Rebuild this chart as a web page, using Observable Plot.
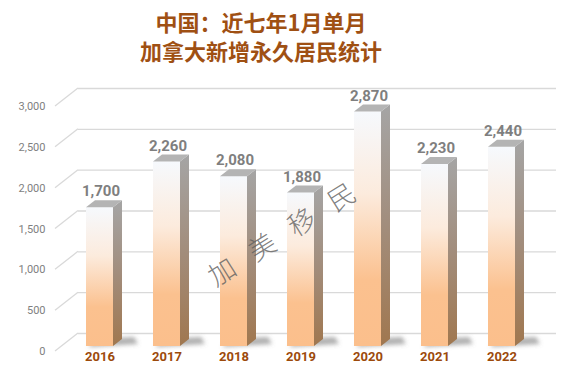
<!DOCTYPE html>
<html>
<head>
<meta charset="utf-8">
<script src="https://cdn.jsdelivr.net/npm/d3@7"></script>
<script src="https://cdn.jsdelivr.net/npm/@observablehq/plot@0.6"></script>
<style>
  html, body { margin: 0; padding: 0; background: #fff; }
  #wrap { position: relative; width: 578px; height: 368px; overflow: hidden; }
  #title { width: 522px; height: 76px; box-sizing: border-box; padding-top: 7px; text-align: center;
           font-family: "Noto Sans CJK SC", sans-serif; font-weight: bold; font-size: 22px; line-height: 29px; color: #9f5013; }
  #wm { position: absolute; left: 281px; top: 233px; transform: translate(-50%, -50%) rotate(-32deg);
        font-family: "Noto Sans CJK SC", sans-serif; font-weight: 300; font-size: 27px; letter-spacing: 20px; padding-left: 20px;
        color: rgba(95, 95, 95, 0.8); white-space: nowrap; pointer-events: none; }
  svg { display: block; }
</style>
</head>
<body>
<div id="wrap">
  <div id="title"></div>
  <div id="chart"></div>
  <div id="wm"></div>
</div>
<script>
const titleLines = ["中国：近七年1月单月", "加拿大新增永久居民统计"];
const years = ["2016", "2017", "2018", "2019", "2020", "2021", "2022"];
const values = [1700, 2260, 2080, 1880, 2870, 2230, 2440];
const yTicks = [0, 500, 1000, 1500, 2000, 2500, 3000];
const watermark = ["加", "美", "移", "民"];

const data = years.map((year, i) => ({year, value: values[i]}));

document.getElementById("title").innerHTML = titleLines.join("<br>");
document.getElementById("wm").textContent = watermark.join("");

// 3D offsets (pixels)
const DX = 6, DY = -5;      // bar front plane relative to axis plane
const BX = 23, BY = -18;    // back wall relative to axis plane
const SX = 9, SY = -7;      // bar depth

const pts = (a) => a.map(p => p.join(",")).join(" ");

function diagonals(index, scales, values, dims) {
  const g = d3.create("svg:g");
  const x0 = dims.marginLeft;
  for (const i of index) {
    const yy = values.y[i];
    g.append("line").attr("x1", x0).attr("y1", yy).attr("x2", x0 + BX).attr("y2", yy + BY)
      .attr("stroke", "#d9d9d9").attr("stroke-width", 1.3);
  }
  return g.node();
}

function shadows(index, scales) {
  const x = scales.x, y = scales.y;
  const bw = typeof x.bandwidth === "function" ? x.bandwidth() : 27;
  const g = d3.create("svg:g").attr("filter", "url(#blur)");
  for (const i of index) {
    const x0 = x(data[i].year) + DX, x1 = x0 + bw, yb = y(0) + DY;
    g.append("polygon").attr("points", pts([[x0 + 2, yb + 1], [x1 + SX + 16, yb - 2], [x1 + SX + 12, yb + SY - 2], [x0 + 10, yb + SY]]))
      .attr("fill", "#6f6f6f").attr("opacity", 0.55);
  }
  return g.node();
}

function faces(index, scales) {
  const x = scales.x, y = scales.y;
  const bw = typeof x.bandwidth === "function" ? x.bandwidth() : 27;
  const g = d3.create("svg:g");
  for (const i of index) {
    const x0 = x(data[i].year) + DX, x1 = x0 + bw;
    const yt = y(data[i].value) + DY, yb = y(0) + DY;
    g.append("polygon").attr("points", pts([[x1, yt], [x1 + SX, yt + SY], [x1 + SX, yb + SY], [x1, yb]]))
      .attr("fill", "url(#sideGrad)");
    g.append("polygon").attr("points", pts([[x0, yt], [x1, yt], [x1 + SX, yt + SY], [x0 + SX, yt + SY]]))
      .attr("fill", "#b4b4b4");
  }
  return g.node();
}

const plot = Plot.plot({
  width: 578,
  height: 292,
  marginLeft: 55,
  marginRight: 45,
  marginTop: 30,
  marginBottom: 17,
  style: {fontFamily: "Roboto, sans-serif", background: "transparent"},
  x: {domain: years, range: [55, 533], paddingInner: 0.6, paddingOuter: 0.32, label: null},
  y: {domain: [0, 3000], range: [275, 30], label: null},
  marks: [
    Plot.ruleY(yTicks, {y: d => d, dx: BX, dy: BY, stroke: "#d9d9d9", strokeWidth: 1.3}),
    Plot.tickY(yTicks, {y: d => d, render: diagonals}),
    Plot.barY(data, {x: "year", y: "value", render: shadows}),
    Plot.barY(data, {x: "year", y: "value", dx: DX, dy: DY, fill: "url(#frontGrad)"}),
    Plot.barY(data, {x: "year", y: "value", render: faces}),
    Plot.text(data, {x: "year", y: "value", text: d => d3.format(",")(d.value), dx: DX + 1, dy: DY - 16,
      fontSize: 15, fontWeight: "bold", fill: "#7f7f7f"}),
    Plot.axisY({ticks: yTicks, tickSize: 0, tickPadding: 10, tickFormat: d3.format(","), fontSize: 11, fill: "#7f7f7f", label: null}),
    Plot.axisX({tickSize: 0, tickPadding: 0, dx: DX, fontSize: 13, fontWeight: "bold", fill: "#9c4a0b", label: null})
  ]
});

const defs = d3.select(plot).insert("defs", ":first-child");
const fg = defs.append("linearGradient").attr("id", "frontGrad").attr("x1", 0).attr("y1", 0).attr("x2", 0).attr("y2", 1);
fg.append("stop").attr("offset", 0).attr("stop-color", "#f6f9fd");
fg.append("stop").attr("offset", 0.35).attr("stop-color", "#fcebdd");
fg.append("stop").attr("offset", 0.72).attr("stop-color", "#fbc18f");
fg.append("stop").attr("offset", 1).attr("stop-color", "#fbbf8c");
const sg = defs.append("linearGradient").attr("id", "sideGrad").attr("x1", 0).attr("y1", 0).attr("x2", 0).attr("y2", 1);
sg.append("stop").attr("offset", 0).attr("stop-color", "#a5a5a5");
sg.append("stop").attr("offset", 0.5).attr("stop-color", "#a28d7c");
sg.append("stop").attr("offset", 1).attr("stop-color", "#a0774f");
defs.append("filter").attr("id", "blur").attr("x", "-50%").attr("y", "-100%").attr("width", "200%").attr("height", "300%")
  .append("feGaussianBlur").attr("stdDeviation", 2.2);

document.getElementById("chart").appendChild(plot);
</script>
</body>
</html>
